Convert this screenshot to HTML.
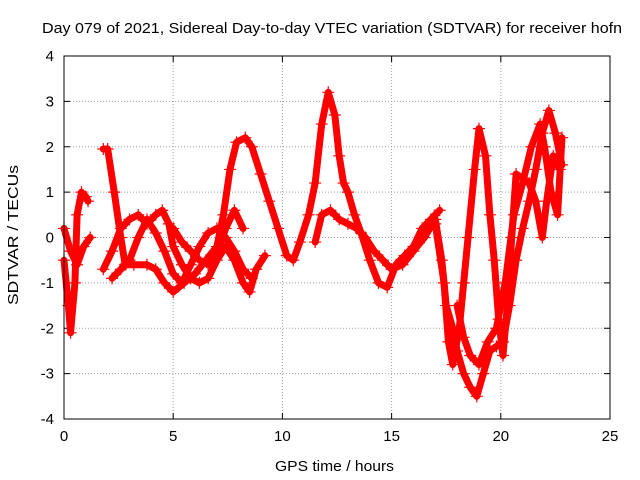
<!DOCTYPE html>
<html><head><meta charset="utf-8"><style>
body{margin:0;background:#fff;}
svg{display:block;font-family:"Liberation Sans",sans-serif;}
</style></head><body>
<svg id="chart" width="640" height="480">
<rect width="640" height="480" fill="#fff"/>
<text x="42" y="33" font-size="15" textLength="580" lengthAdjust="spacingAndGlyphs">Day 079 of 2021, Sidereal Day-to-day VTEC variation (SDTVAR) for receiver hofn</text>
<text x="275" y="471" font-size="15" textLength="119" lengthAdjust="spacingAndGlyphs">GPS time / hours</text>
<text transform="translate(18,305) rotate(-90)" font-size="15" textLength="140" lengthAdjust="spacingAndGlyphs">SDTVAR / TECUs</text>
<g id="grid"></g><g id="ticks"></g><g id="series"></g>
<rect x="64" y="56" width="546" height="363" fill="none" stroke="#000"/>
</svg>
<script>
const xTicks=[0,5,10,15,20,25];
const yTicks=[-4,-3,-2,-1,0,1,2,3,4];
const traceA=[[0,-0.5],[0.2,-1.5],[0.3,-2.1],[0.5,-1.0],[0.6,0.5],[0.8,1.0],[1.0,0.9],[1.1,0.8]];
const traceB=[[0,0.2],[0.3,-0.3],[0.6,-0.6],[0.9,-0.2],[1.2,0]];
const traceC=[[1.8,1.95],[2.0,1.95],[2.3,1.0],[2.6,0],[2.8,-0.6],[3.2,-0.6],[3.8,-0.6],[4.2,-0.7],[4.6,-1.0],[5.0,-1.2],[5.5,-1.0],[6.0,-0.8],[6.5,-0.5],[7.0,-0.2],[7.3,0.5],[7.6,1.5],[7.9,2.1],[8.3,2.2],[8.6,2.0],[9.0,1.4],[9.4,0.8],[9.8,0.2],[10.2,-0.4],[10.5,-0.5],[10.8,-0.1],[11.2,0.5],[11.5,1.2],[11.8,2.5],[12.1,3.2],[12.4,2.7],[12.6,1.8],[12.8,1.2],[13.0,1.0],[13.3,0.5],[13.6,0.1],[14.0,-0.5],[14.4,-1.0],[14.8,-1.1],[15.2,-0.6],[15.6,-0.4],[16.0,-0.2],[16.4,0.2],[16.8,0.4],[17.2,0.6]];
const traceD=[[1.8,-0.7],[2.2,-0.3],[2.6,0.2],[3.0,0.4],[3.4,0.5],[3.8,0.3],[4.2,0.5],[4.5,0.6],[4.8,0.3],[5.0,-0.2],[5.4,-0.6],[5.8,-0.9],[6.2,-1.0],[6.6,-0.9],[7.0,-0.5],[7.4,-0.2],[7.8,-0.5],[8.2,-1.0],[8.5,-1.2],[8.8,-0.7],[9.2,-0.4]];
const traceE=[[2.2,-0.9],[2.6,-0.7],[3.0,-0.5],[3.4,0],[3.8,0.4],[4.2,0.1],[4.6,-0.3],[5.0,-0.8],[5.4,-1.0],[5.8,-0.6],[6.2,-0.2],[6.6,0.1],[7.0,0.2],[7.4,0],[7.8,-0.3],[8.2,-0.7],[8.6,-0.9]];
const traceF=[[5.0,0.2],[5.4,-0.1],[5.8,-0.3],[6.2,-0.5],[6.6,-0.6],[7.0,-0.4],[7.4,0.2],[7.8,0.6],[8.2,0.2]];
const traceG=[[11.5,-0.1],[11.8,0.5],[12.2,0.6],[12.6,0.4],[13.0,0.3],[13.4,0.2],[13.8,0],[14.2,-0.3],[14.6,-0.5],[15.0,-0.7],[15.5,-0.6],[16.0,-0.3],[16.5,0],[17.0,0.4],[17.3,-0.5],[17.5,-1.5],[17.8,-2.0],[18.0,-2.5],[18.3,-3.0],[18.6,-3.3],[18.9,-3.5],[19.2,-3.0],[19.5,-2.5],[19.8,-2.4],[20.1,-2.3],[20.4,-1.5],[20.7,-0.5],[21.0,0.2],[21.3,0.8],[21.6,1.5],[21.9,2.3],[22.2,2.8],[22.5,2.3],[22.8,1.6]];
const traceH=[[17.0,0.3],[17.4,-1.0],[17.6,-2.3],[17.8,-2.8],[18.1,-2.0],[18.3,-1.0],[18.5,0],[18.8,1.5],[19.0,2.4],[19.3,1.8],[19.5,0.5],[19.7,-0.5],[19.9,-1.8],[20.1,-2.6],[20.3,-1.5],[20.5,0],[20.7,1.4],[21.0,1.3],[21.3,1.2],[21.6,0.8],[21.9,0],[22.1,0.8],[22.4,1.8],[22.7,1.5]];
const traceI=[[18.0,-1.5],[18.3,-2.2],[18.6,-2.6],[19.0,-2.8],[19.4,-2.3],[19.8,-2.0],[20.2,-1.0],[20.6,0.5],[21.0,1.2],[21.4,2.0],[21.8,2.5],[22.0,2.0],[22.3,1.0],[22.6,0.5],[22.8,2.2]];
const traces=[traceA,traceB,traceC,traceD,traceE,traceF,traceG,traceH,traceI];

const NS="http://www.w3.org/2000/svg";
const X0=64,X1=610,Y0=419,Y1=56;
const sx=v=>X0+(v-0)/(25-0)*(X1-X0);
const sy=v=>Y0-(v+4)/8*(Y0-Y1);
function mk(tag,attrs,parent){const e=document.createElementNS(NS,tag);for(const k in attrs)e.setAttribute(k,attrs[k]);parent.appendChild(e);return e;}
const grid=document.getElementById('grid'),ticks=document.getElementById('ticks'),ser=document.getElementById('series');
xTicks.forEach(t=>{
  const x=sx(t);
  if(t>0&&t<25){const g=mk('line',{x1:x,x2:x,y1:Y1,y2:Y0,stroke:'#a0a0a0','stroke-dasharray':'1,2'},grid);
  
  }
  mk('line',{x1:x,x2:x,y1:Y0,y2:Y0-6,stroke:'#000'},ticks);
  mk('line',{x1:x,x2:x,y1:Y1,y2:Y1+6,stroke:'#000'},ticks);
  const l=mk('text',{x:x,y:Y0+22,'font-size':15,'text-anchor':'middle'},ticks);l.textContent=t;
  
  
});
yTicks.forEach(t=>{
  const y=sy(t);
  if(t>-4&&t<4){const g=mk('line',{x1:X0,x2:X1,y1:y,y2:y,stroke:'#a0a0a0','stroke-dasharray':'1,2'},grid);
  
  }
  mk('line',{x1:X0,x2:X0+6,y1:y,y2:y,stroke:'#000'},ticks);
  mk('line',{x1:X1,x2:X1-6,y1:y,y2:y,stroke:'#000'},ticks);
  const l=mk('text',{x:X0-10,y:y+5,'font-size':15,'text-anchor':'end'},ticks);l.textContent=t;
  
  
});
traces.forEach((tr,i)=>{
  const g=mk('g',{},ser);
  
  
  mk('polyline',{points:tr.map(p=>sx(p[0])+','+sy(p[1])).join(' '),fill:'none',stroke:'#ff0000','stroke-width':7,'stroke-linejoin':'round','stroke-linecap':'round'},g);
  tr.forEach(p=>{
    const x=sx(p[0]),y=sy(p[1]);
    mk('path',{d:`M${x-6},${y}h12M${x},${y-6}v12`,stroke:'#ff0000','stroke-width':1.2},g);
  });
});
</script>
</body></html>
